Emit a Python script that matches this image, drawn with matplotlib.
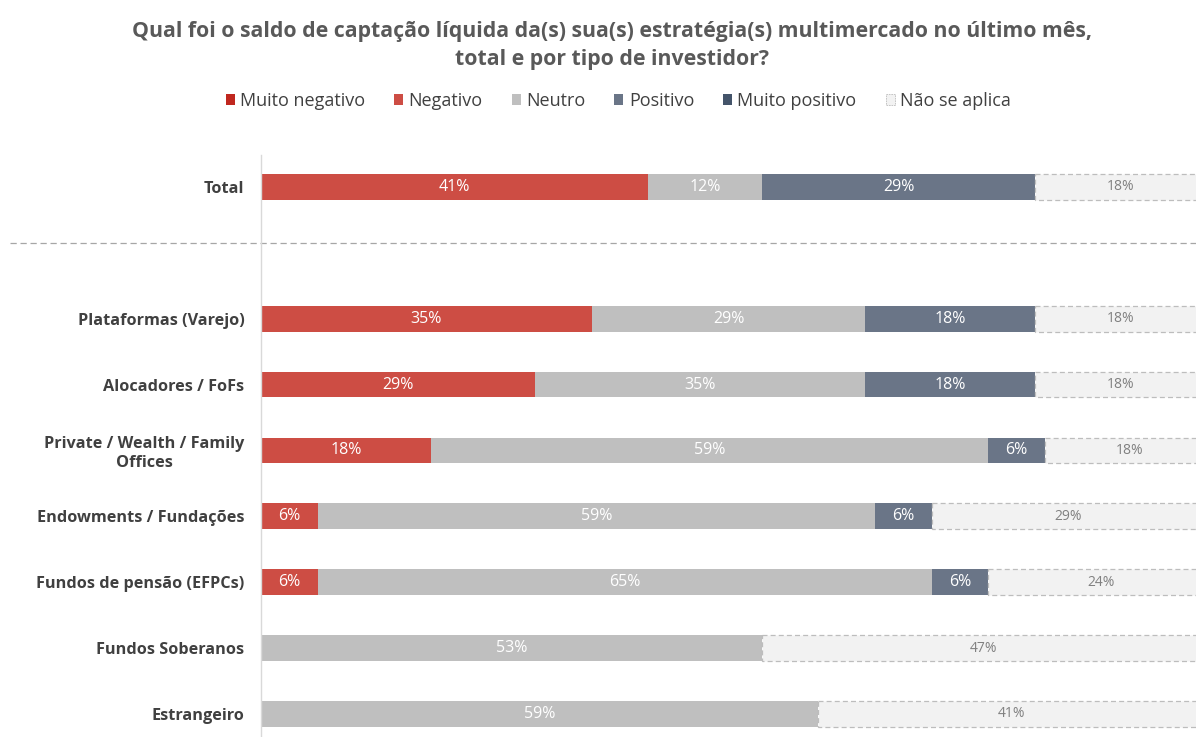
import numpy as np
import matplotlib.pyplot as plt
from matplotlib.patches import Patch
from matplotlib.transforms import blended_transform_factory

plt.rcParams['font.family'] = ['Open Sans', 'DejaVu Sans']

# Survey answers (% of respondents) per investor type
categories = ['Total', 'Plataformas (Varejo)', 'Alocadores / FoFs',
              'Private / Wealth / Family\nOffices', 'Endowments / Fundações',
              'Fundos de pensão (EFPCs)', 'Fundos Soberanos', 'Estrangeiro']
muito_negativo = [0, 0, 0, 0, 0, 0, 0, 0]
negativo = [41, 35, 29, 18, 6, 6, 0, 0]
neutro = [12, 29, 35, 59, 59, 65, 53, 59]
positivo = [29, 18, 18, 6, 6, 6, 0, 0]
muito_positivo = [0, 0, 0, 0, 0, 0, 0, 0]
nao_se_aplica = [18, 18, 18, 18, 29, 24, 47, 41]

series = [
    ('Muito negativo', muito_negativo, '#C0271F'),
    ('Negativo', negativo, '#CD4D44'),
    ('Neutro', neutro, '#BFBFBF'),
    ('Positivo', positivo, '#6A7587'),
    ('Muito positivo', muito_positivo, '#44546A'),
]
na_color = '#F2F2F2'

# Total sits on top, the investor types below a gap
ypos = np.array([0, 2, 3, 4, 5, 6, 7, 8])

fig = plt.figure(figsize=(11.96, 7.37), dpi=100)
ax = fig.add_axes([261 / 1196, 0, 1 - 261 / 1196, 1 - 155 / 737])

left = np.zeros(len(categories))
for name, vals, color in series:
    vals = np.array(vals, dtype=float)
    ax.barh(ypos, vals, left=left, height=0.39, color=color, edgecolor='none')
    for y, l, v in zip(ypos, left, vals):
        if v > 0:
            ax.text(l + v / 2, y, f'{v:.0f}%', ha='center', va='center',
                    color='white', fontsize=11.5)
    left += vals

na = np.array(nao_se_aplica, dtype=float)
ax.barh(ypos, na, left=left, height=0.39, color=na_color,
        edgecolor='#BDBDBD', linestyle=(0, (4, 2.5)), linewidth=0.9)
for y, l, v in zip(ypos, left, na):
    ax.text(l + v / 2, y, f'{v:.0f}%', ha='center', va='center',
            color='#808080', fontsize=10)

ax.set_xlim(0, 99)
ax.set_ylim(8.35, -0.485)
ax.set_yticks(ypos)
ax.set_yticklabels(categories, fontsize=11.7, fontweight='bold', color='#404040',
                   multialignment='center')
ax.tick_params(axis='y', length=0, pad=12)
ax.set_xticks([])
for side in ['top', 'right', 'bottom']:
    ax.spines[side].set_visible(False)
ax.spines['left'].set_color('#D9D9D9')
ax.spines['left'].set_linewidth(1)

# dashed divider between Total and the investor types
trans = blended_transform_factory(ax.transAxes, ax.transData)
ax.plot([(10 - 261) / 935, 1.0], [0.85, 0.85], transform=trans,
        color='#A6A6A6', linestyle=(0, (5, 3)), linewidth=0.9, clip_on=False)

fig.text(0.512, 1 - 32 / 737,
         'Qual foi o saldo de captação líquida da(s) sua(s) estratégia(s) multimercado no último mês,',
         ha='center', va='center', fontsize=15.3, fontweight='bold', color='#595959')
fig.text(0.512, 1 - 60 / 737, 'total e por tipo de investidor?',
         ha='center', va='center', fontsize=15.3, fontweight='bold', color='#595959')

handles = [Patch(facecolor=c, edgecolor='none', label=n) for n, _, c in series]
handles.append(Patch(facecolor=na_color, edgecolor='#BDBDBD', linestyle=(0, (2, 1)),
                     linewidth=0.6, label='Não se aplica'))
fig.legend(handles=handles, loc='center', bbox_to_anchor=(0.517, 1 - 101 / 737),
           ncol=6, frameon=False, fontsize=13, handlelength=0.5, handleheight=0.5,
           handletextpad=0.3, columnspacing=1.6, labelcolor='#404040')

fig.savefig('out.png', dpi=100)
